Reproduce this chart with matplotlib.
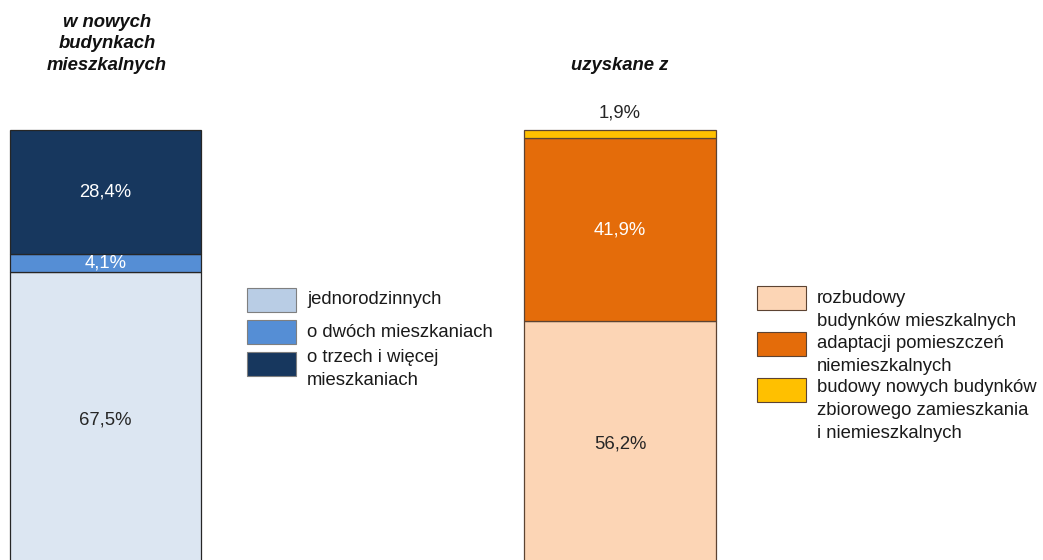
import matplotlib.pyplot as plt
from matplotlib.patches import Rectangle

plt.rcParams['font.family'] = ['Liberation Sans', 'DejaVu Sans']

# data (percent, stacked bottom -> top)
left_labels = ['jednorodzinnych', 'o dwóch mieszkaniach', 'o trzech i więcej\nmieszkaniach']
left_values = [67.5, 4.1, 28.4]
left_colors = ['#dce6f2', '#558ed5', '#17375e']
left_legend_colors = ['#b9cde5', '#558ed5', '#17375e']
left_text_colors = ['#262626', 'white', 'white']

right_labels = ['rozbudowy\nbudynków mieszkalnych', 'adaptacji pomieszczeń\nniemieszkalnych',
                'budowy nowych budynków\nzbiorowego zamieszkania\ni niemieszkalnych']
right_values = [56.2, 41.9, 1.9]
right_colors = ['#fcd5b5', '#e46c0a', '#ffc000']
right_text_colors = ['#262626', 'white', '#262626']

titles = ['w nowych\nbudynkach\nmieszkalnych', 'uzyskane z']

W, H = 1043, 560
FS = 13.3
fig = plt.figure(figsize=(W / 100, H / 100), dpi=100)


def px(x, y):
    return x / W, 1 - y / H


# main axes spans the whole figure; y in percent, bar top (100%) at pixel 130,
# 0% at pixel 567 (below the image edge, so the bars are cut off)
scale = 4.37  # pixels per percent
ax = fig.add_axes([0, 0, 1, 1])
ax.set_ylim((567 - 560) / scale, 567 / scale)
ax.set_xlim(-0.205, 1.822)
ax.axis('off')

bar_w = 0.372
stacks = [(0, left_values, left_colors, left_text_colors, '#262626'),
          (1, right_values, right_colors, right_text_colors, '#5c4332')]
for x, vals, cols, tcols, ec in stacks:
    bottom = 0
    for i, (v, c, tc) in enumerate(zip(vals, cols, tcols)):
        ax.bar(x, v, bottom=bottom, width=bar_w, color=c, edgecolor=ec, linewidth=0.9)
        lab = f'{v:.1f}%'.replace('.', ',')
        if v < 3:
            # thin segment on top: label above the bar
            ax.text(x, bottom + v + 4, lab, ha='center', va='center', fontsize=FS, color=tc)
        else:
            ax.text(x, bottom + v / 2, lab, ha='center', va='center', fontsize=FS, color=tc)
        bottom += v

# titles
fig.text(*px(107, 44), titles[0], ha='center', va='center', fontsize=FS,
         fontweight='bold', fontstyle='italic', linespacing=1.36, color='#111111')
fig.text(*px(620, 65), titles[1], ha='center', va='center', fontsize=FS,
         fontweight='bold', fontstyle='italic', color='#111111')


# legends (patch centres and text tops in pixels)
def legend(x0, patch_ys, text_ys, labels, colors, ec):
    for y, ty, lab, c in zip(patch_ys, text_ys, labels, colors):
        fig.add_artist(Rectangle(px(x0, y + 12), 49 / W, 24 / H, transform=fig.transFigure,
                                 facecolor=c, edgecolor=ec, linewidth=0.8))
        fig.text(*px(x0 + 60, ty), lab, ha='left', va='top', fontsize=FS,
                 linespacing=1.45, color='#1a1a1a')


legend(247, [300, 332, 364], [291, 324, 349], left_labels, left_legend_colors, '#7f7f7f')
legend(757, [298, 344, 390], [290, 335, 379], right_labels, right_colors, '#5c4332')

fig.savefig('out.png', dpi=100)
